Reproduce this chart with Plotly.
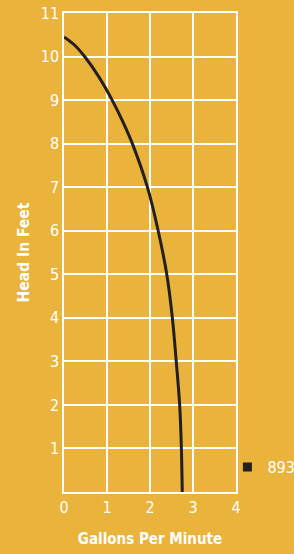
import plotly.graph_objects as go

gpm = [0.0, 0.25, 0.48, 0.8, 1.12, 1.37, 1.59, 1.94, 2.19, 2.39, 2.52, 2.61, 2.69, 2.73, 2.75]
head = [10.45, 10.26, 10.0, 9.55, 9.0, 8.5, 8.0, 7.0, 6.0, 5.0, 4.0, 3.0, 2.0, 1.0, 0.0]
x_ticks = [0, 1, 2, 3, 4]
y_ticks = [1, 2, 3, 4, 5, 6, 7, 8, 9, 10, 11]
series_name = "893"

BG = "#EAB33B"
INK = "#231F20"
FONT = "'DejaVu Sans Condensed', 'Liberation Sans', sans-serif"

fig = go.Figure()
fig.add_trace(go.Scatter(x=gpm, y=head, mode="lines",
                         line=dict(color=INK, width=3, shape="spline", smoothing=1),
                         showlegend=False, hoverinfo="x+y"))
fig.add_trace(go.Scatter(x=[None], y=[None], mode="markers", name=series_name,
                         marker=dict(symbol="square", size=9, color=INK)))

axis_common = dict(showgrid=True, gridcolor="white", gridwidth=1.5,
                   showline=True, linecolor="white", linewidth=1.5, mirror=True, zeroline=False,
                   ticks="", ticklen=0, automargin=False,
                   tickfont=dict(family=FONT, size=16, color="white"))

fig.update_layout(
    width=294, height=554,
    margin=dict(l=64, r=58, t=13, b=62, autoexpand=False),
    paper_bgcolor=BG, plot_bgcolor=BG,
    font=dict(family=FONT, color="white", size=16),
    legend=dict(x=0.95, xanchor="left", y=0.052, yanchor="middle", bgcolor="rgba(0,0,0,0)",
                font=dict(family=FONT, size=16, color="white"), borderwidth=0,
                itemwidth=30, tracegroupgap=0),
    xaxis=dict(range=[0, 4], tickvals=x_ticks, **axis_common,
               title=dict(text="<b>Gallons Per Minute</b>",
                          font=dict(family=FONT, size=15, color="white"), standoff=18)),
    yaxis=dict(range=[0, 11], tickvals=y_ticks, **axis_common,
               title=dict(text="<b>Head In Feet</b>",
                          font=dict(family=FONT, size=15.5, color="white"), standoff=7)),
)

fig.write_html("out.html", config={"displayModeBar": False},
               post_script="document.body.style.margin='0';")
